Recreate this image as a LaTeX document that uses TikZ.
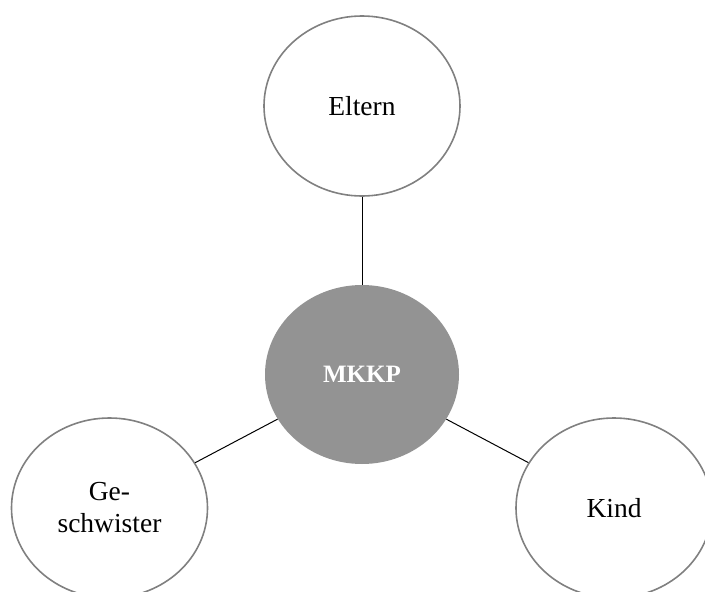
\documentclass[tikz,border=0pt]{standalone}
\usepackage{fontspec}
\setmainfont{Liberation Serif}
\usetikzlibrary{shapes.geometric}
\definecolor{rimgray}{HTML}{808080}
\definecolor{hubgray}{HTML}{939393}
\begin{document}
\begin{tikzpicture}[x=1pt,y=-1pt,
  member/.style={ellipse,draw=rimgray,line width=1.6pt,fill=white,minimum width=196pt,minimum height=180pt,inner sep=0pt,font=\fontsize{27.5}{32}\selectfont,align=center},
  hub/.style={ellipse,fill=hubgray,draw=none,minimum width=194pt,minimum height=179pt,inner sep=0pt,text=white,font=\fontsize{25}{30}\selectfont\bfseries},
  link/.style={draw=black,line width=1pt}]
\useasboundingbox (0,0) rectangle (705,592);
\clip (0,0) rectangle (705,592);
\node[hub] (mkkp) at (362,374.5) {MKKP};
\node[member] (eltern) at (362,106) {Eltern};
\node[member] (gesch) at (109.5,508) {Ge-\\schwister};
\node[member] (kind) at (614,508) {Kind};
\draw[link] (eltern) -- (mkkp);
\draw[link] (gesch) -- (mkkp);
\draw[link] (kind) -- (mkkp);
\end{tikzpicture}
\end{document}
